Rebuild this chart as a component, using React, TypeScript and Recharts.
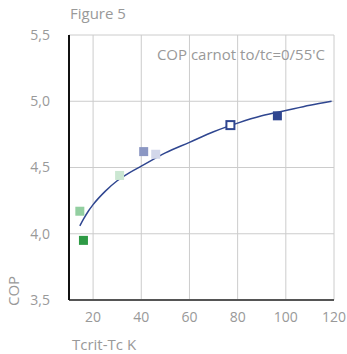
import {
  CartesianGrid,
  ComposedChart,
  Line,
  Scatter,
  XAxis,
  YAxis,
} from "recharts";

// Measured samples (Tcrit-Tc in K vs COP) and the Carnot-type trend curve.
const SAMPLE_X = [16, 14.5, 31, 41, 46, 77, 96.5];
const SAMPLE_COP = [3.95, 4.17, 4.44, 4.62, 4.6, 4.82, 4.89];
const SAMPLE_COLORS = ["#2e9a45", "#93cfa1", "#cbe7d2", "#8b97c3", "#d2d7ea", "#2f4690", "#2f4690"];
const SAMPLE_HOLLOW = [false, false, false, false, false, true, false];

const CURVE_X = [14.5, 16, 18, 20, 25, 30, 35, 40, 50, 60, 70, 80, 90, 100, 110, 119];
const CURVE_COP = [4.06, 4.11, 4.17, 4.22, 4.32, 4.4, 4.46, 4.51, 4.61, 4.69, 4.77, 4.835, 4.89, 4.93, 4.97, 5.0];

const X_TICKS = [20, 40, 60, 80, 100, 120];
const Y_TICKS = [3.5, 4, 4.5, 5, 5.5];

const FONT = "'Open Sans', 'Noto Sans', sans-serif";
const GREY = "#999";
const TICK = { fill: GREY, fontSize: 14, fontFamily: FONT };

const samples = SAMPLE_X.map((x, i) => ({ x, y: SAMPLE_COP[i], i }));
const curve = CURVE_X.map((x, i) => ({ x, y: CURVE_COP[i] }));

function Square(props: any) {
  const { cx, cy, payload } = props;
  const c = SAMPLE_COLORS[payload.i];
  if (SAMPLE_HOLLOW[payload.i]) {
    return <rect x={cx - 4} y={cy - 4} width={8} height={8} fill="#fff" stroke={c} strokeWidth={2} />;
  }
  return <rect x={cx - 4.5} y={cy - 4.5} width={9} height={9} fill={c} />;
}

const label = (extra: React.CSSProperties): React.CSSProperties => ({
  position: "absolute",
  color: GREY,
  fontFamily: FONT,
  fontSize: 15,
  lineHeight: "16px",
  whiteSpace: "nowrap",
  ...extra,
});

export default function App() {
  return (
    <div style={{ position: "absolute", left: 0, top: 0, width: 347, height: 354, background: "#fff" }}>
      <ComposedChart
        width={347}
        height={354}
        margin={{ top: 35, right: 13, bottom: 24, left: 0 }}
      >
        <CartesianGrid stroke="#cccccc" strokeWidth={1} />
        <XAxis
          type="number"
          dataKey="x"
          domain={[10, 120]}
          ticks={X_TICKS}
          allowDataOverflow
          height={30}
          tick={TICK}
          tickSize={0}
          tickMargin={12}
          axisLine={{ stroke: "#555", strokeWidth: 2 }}
        />
        <YAxis
          type="number"
          dataKey="y"
          domain={[3.5, 5.5]}
          ticks={Y_TICKS}
          width={69}
          tick={TICK}
          tickSize={0}
          tickMargin={19}
          tickFormatter={(v: number) => v.toFixed(1).replace(".", ",")}
          axisLine={{ stroke: "#111", strokeWidth: 2 }}
        />
        <Line
          data={curve}
          dataKey="y"
          type="monotone"
          stroke="#2f4690"
          strokeWidth={1.5}
          dot={false}
          isAnimationActive={false}
        />
        <Scatter data={samples} shape={<Square />} isAnimationActive={false} />
      </ComposedChart>
      <div style={label({ left: 70, top: 5 })}>Figure 5</div>
      <div style={label({ right: 22, top: 46 })}>COP carnot to/tc=0/55'C</div>
      <div style={label({ left: 72, top: 336 })}>Tcrit-Tc K</div>
      <div
        style={label({
          left: 13,
          top: 291,
          transform: "translate(-50%, -50%) rotate(-90deg)",
        })}
      >
        COP
      </div>
    </div>
  );
}
